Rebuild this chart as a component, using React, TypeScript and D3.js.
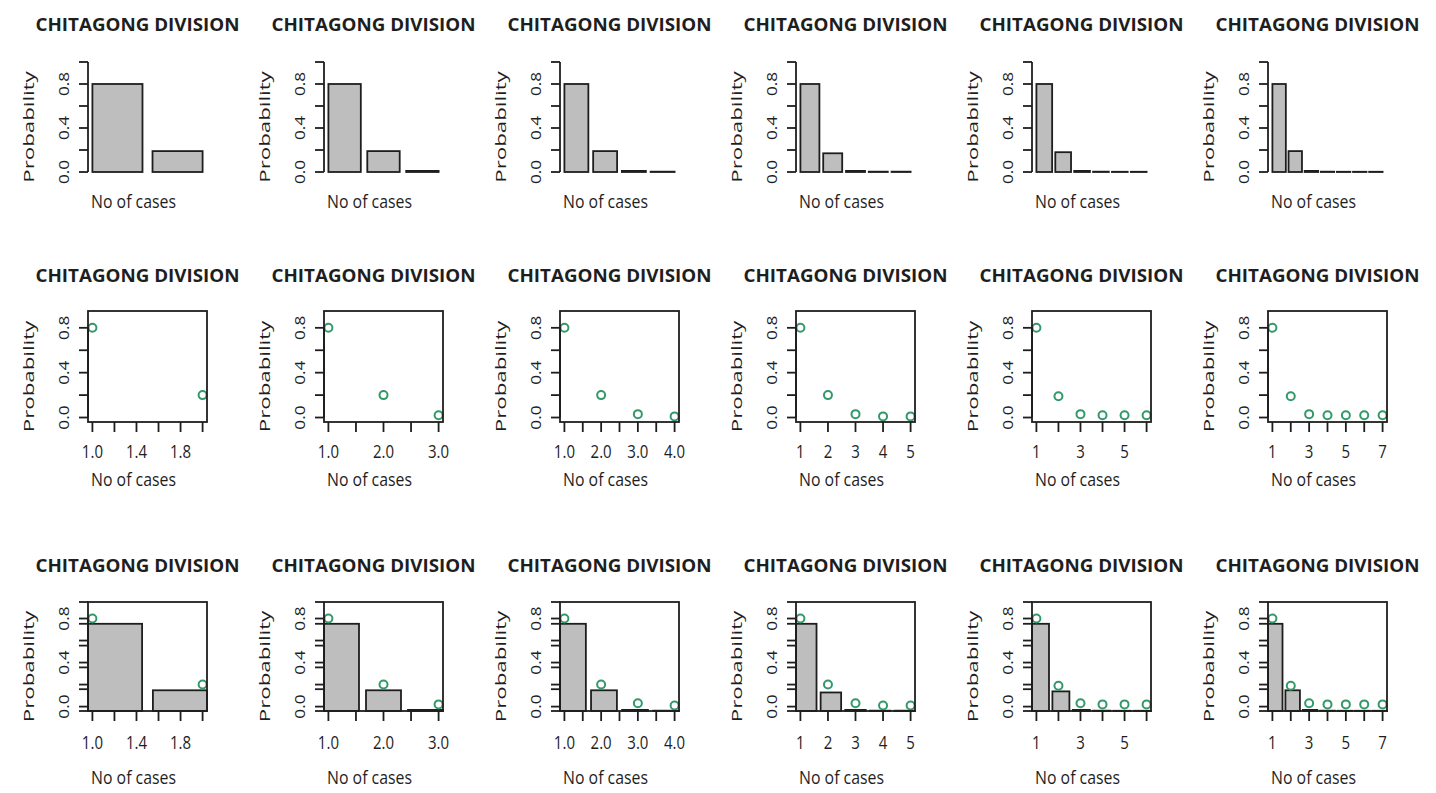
import * as d3 from 'd3';

const panelTitle = 'CHITAGONG DIVISION';
const xTitle = 'No of cases';
const yTitle = 'Probability';

// observed relative frequencies, truncated at 2..7 cases
const observed2 = [0.8, 0.19];
const observed3 = [0.8, 0.19, 0.01];
const observed4 = [0.8, 0.19, 0.01, 0.003];
const observed5 = [0.8, 0.17, 0.01, 0.003, 0.003];
const observed6 = [0.8, 0.18, 0.01, 0.003, 0.002, 0.002];
const observed7 = [0.8, 0.19, 0.01, 0.003, 0.002, 0.002, 0.002];

// fitted probabilities
const fitted2 = [0.8, 0.2];
const fitted3 = [0.8, 0.2, 0.02];
const fitted4 = [0.8, 0.2, 0.03, 0.01];
const fitted5 = [0.8, 0.2, 0.03, 0.01, 0.01];
const fitted6 = [0.8, 0.19, 0.03, 0.02, 0.02, 0.02];
const fitted7 = [0.8, 0.19, 0.03, 0.02, 0.02, 0.02, 0.02];

const xTickLabels2 = ['1.0', '1.4', '1.8'];
const xTickLabels3 = ['1.0', '2.0', '3.0'];
const xTickLabels4 = ['1.0', '2.0', '3.0', '4.0'];
const xTickLabels5 = ['1', '2', '3', '4', '5'];
const xTickLabels6 = ['1', '3', '5'];
const xTickLabels7 = ['1', '3', '5', '7'];
const yTickLabels = ['0.0', '0.4', '0.8'];

const columns = [
  { obs: observed2, fit: fitted2, labels: xTickLabels2 },
  { obs: observed3, fit: fitted3, labels: xTickLabels3 },
  { obs: observed4, fit: fitted4, labels: xTickLabels4 },
  { obs: observed5, fit: fitted5, labels: xTickLabels5 },
  { obs: observed6, fit: fitted6, labels: xTickLabels6 },
  { obs: observed7, fit: fitted7, labels: xTickLabels7 },
];

type Kind = 'bar' | 'point' | 'both';

// row geometry: top/bottom of the plot box, title and label centres
const rows: { kind: Kind; top: number; bottom: number; titleY: number; tickY: number; xTitleY: number }[] = [
  { kind: 'bar', top: 62, bottom: 172, titleY: 24, tickY: 0, xTitleY: 202 },
  { kind: 'point', top: 311, bottom: 422, titleY: 275, tickY: 452, xTitleY: 480 },
  { kind: 'both', top: 602, bottom: 711, titleY: 565, tickY: 743, xTitleY: 778 },
];

const colLeft = 88;
const colStep = 236;
const plotW = 119;
const sy = 1.15;
const ink = '#1e1e1e';
const green = '#33996a';
const font = '"Open Sans", "DejaVu Sans", sans-serif';

type LabelProps = {
  x: number;
  y: number;
  size: number;
  rotate?: boolean;
  bold?: boolean;
  len?: number;
  children: string;
};

function Label({ x, y, size, rotate, bold, len, children }: LabelProps) {
  return (
    <text
      transform={`translate(${x},${y}) scale(1,${sy})${rotate ? ' rotate(-90)' : ''}`}
      textAnchor="middle"
      dominantBaseline="central"
      fontFamily={font}
      fontSize={size}
      fontWeight={bold ? 700 : 400}
      fill={ink}
      textLength={len}
      lengthAdjust={len ? 'spacingAndGlyphs' : undefined}
    >
      {children}
    </text>
  );
}

function Panel({ row, col }: { row: number; col: number }) {
  const r = rows[row];
  const { obs, fit, labels } = columns[col];
  const x0 = colLeft + col * colStep;
  const x1 = x0 + plotW;
  const n = obs.length;

  // barplot coordinates: unit bars with 0.2 spacing, 4% extension only when no box
  const ext = r.kind === 'bar' ? (0.04 * (1.2 * n - 0.2)) / 1.2 : 0;
  const xBand = d3
    .scaleBand<number>()
    .domain(d3.range(n))
    .range([x0, x1])
    .paddingInner(1 / 6)
    .paddingOuter(ext);
  const yBar = d3.scaleLinear().domain([0, 1]).range([r.bottom, r.top]);

  const m = fit.length;
  const xPt = d3
    .scaleLinear()
    .domain([1 - 0.04 * (m - 1), m + 0.04 * (m - 1)])
    .range([x0, x1]);
  const yPt = d3.scaleLinear().domain([-0.04, 0.95]).range([r.bottom, r.top]);

  const yAxis = r.kind === 'bar' ? yBar : yPt;
  const yTicks = r.kind === 'bar' ? d3.ticks(0, 1, 5) : d3.ticks(0, 0.8, 4);
  const xTicks = d3.ticks(1, m, 5);
  const cx = x0 + plotW / 2;
  const sw = 1.8;

  return (
    <g>
      <Label x={cx - 10} y={r.titleY} size={16} bold len={204}>
        {panelTitle}
      </Label>

      {r.kind !== 'point' &&
        obs.map((v, i) => (
          <rect
            key={i}
            x={xBand(i)}
            y={yBar(v)}
            width={xBand.bandwidth()}
            height={yBar(0) - yBar(v)}
            fill="#bebebe"
            stroke={ink}
            strokeWidth={sw}
          />
        ))}

      {r.kind !== 'bar' &&
        fit.map((v, i) => (
          <circle
            key={i}
            cx={xPt(i + 1)}
            cy={yPt(v)}
            r={4}
            fill="none"
            stroke={green}
            strokeWidth={2}
          />
        ))}

      {r.kind !== 'bar' && (
        <rect x={x0} y={r.top} width={plotW} height={r.bottom - r.top} fill="none" stroke={ink} strokeWidth={sw} />
      )}

      {/* y axis */}
      <line x1={x0} x2={x0} y1={yAxis(yTicks[0])} y2={yAxis(yTicks[yTicks.length - 1])} stroke={ink} strokeWidth={sw} />
      {yTicks.map((t) => (
        <line key={t} x1={x0 - 9} x2={x0} y1={yAxis(t)} y2={yAxis(t)} stroke={ink} strokeWidth={sw} />
      ))}
      {r.kind === 'both' &&
        d3.ticks(0, 1, 5).map((t) => (
          <line key={`b${t}`} x1={x0 - 9} x2={x0} y1={yBar(t)} y2={yBar(t)} stroke={ink} strokeWidth={sw} />
        ))}
      {yTickLabels.map((l) => (
        <Label key={l} x={x0 - 25} y={yAxis(+l)} size={15} rotate>
          {l}
        </Label>
      ))}
      <Label x={x0 - 60} y={(r.top + r.bottom) / 2 + 10} size={15} rotate len={97}>
        {yTitle}
      </Label>

      {/* x axis */}
      {r.kind !== 'bar' && (
        <g>
          {xTicks.map((t) => (
            <line key={t} x1={xPt(t)} x2={xPt(t)} y1={r.bottom} y2={r.bottom + 10} stroke={ink} strokeWidth={sw} />
          ))}
          {labels.map((l) => (
            <Label key={l} x={xPt(+l)} y={r.tickY} size={15}>
              {l}
            </Label>
          ))}
        </g>
      )}
      <Label x={cx - 14} y={r.xTitleY} size={15} len={85}>
        {xTitle}
      </Label>
    </g>
  );
}

export default function App() {
  return (
    <svg
      width={1436}
      height={793}
      viewBox="0 0 1436 793"
      style={{ position: 'absolute', left: 0, top: 0, background: '#fff' }}
    >
      <rect width={1436} height={793} fill="#fff" />
      {rows.map((_, ri) =>
        columns.map((_, ci) => <Panel key={`${ri}-${ci}`} row={ri} col={ci} />),
      )}
    </svg>
  );
}
